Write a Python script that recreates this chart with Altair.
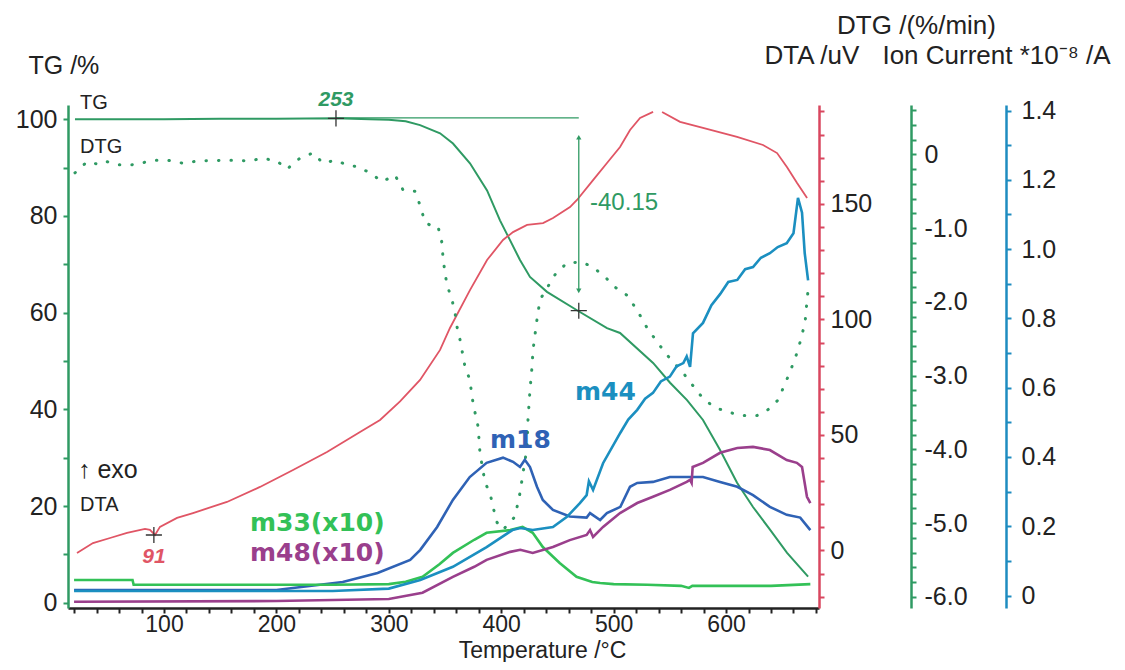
import altair as alt
import pandas as pd

FONT = "Liberation Sans"
GREEN = "#2f9a63"
RED = "#e05565"
RED_AX = "#d9475f"
BLUE_AX = "#1e8cc0"
C_M18 = "#2f62b5"
C_M44 = "#1b8fc0"
C_M33 = "#33c157"
C_M48 = "#9a3f8c"

W, H = 751, 503
X_DOMAIN = [14.6, 682.7]
TG_DOMAIN = [-1.1, 102.96]
DTA_DOMAIN = [-24.9, 192.8]
DTG_DOMAIN = [-6.15, 0.67]
ION_DOMAIN = [-0.036, 1.416]

# ---------------- data ----------------
tg_T = [20.8, 60, 100, 150, 200, 253, 283, 300, 315, 327.8, 345.6, 357.1, 372.2, 387.4,
        398.9, 407.8, 416.7, 425.6, 440.7, 467.4, 494.1, 505.7, 535.1, 550.2, 565.3,
        579.5, 594.7, 609.8, 624.0, 639.1, 654.3, 673.0]
tg_v = [100.0, 100.0, 100.0, 100.1, 100.1, 100.2, 100.0, 99.9, 99.6, 98.8, 97.1, 95.0,
        90.9, 85.3, 79.1, 75.0, 70.9, 67.4, 64.3, 60.5, 56.8, 55.8, 49.6, 45.5, 41.9,
        37.8, 31.6, 24.8, 19.8, 15.1, 10.3, 5.4]

dta_T = [22.6, 36.8, 52.0, 67.1, 83.1, 87.5, 92.0, 96.4, 111.6, 125.8, 156.0, 185.4,
         214.8, 245.0, 274.4, 292.2, 310.0, 327.8, 345.6, 354.4, 372.2, 387.4, 401.6, 410.5,
         423.0, 437.2, 446.1, 461.2, 467.4, 481.7, 494.1, 505.7, 514.6, 523.5, 535.1,
         543.1, 559.1, 579.5, 609.8, 632.9, 645.4, 654.3, 663.2, 672.1]
dta_v = [-1.1, 3.2, 5.4, 7.6, 9.3, 8.9, 6.7, 10.2, 14.1, 16.2, 21.0, 27.5, 34.8, 42.6,
         51.3, 56.5, 64.5, 73.8, 86.8, 96.3, 112.7, 125.7, 134.4, 137.8, 140.9, 141.7, 143.9,
         148.6, 151.7, 160.3, 167.7, 174.6, 182.0, 187.2, 189.8,
         189.8, 185.5, 182.9, 179.0, 175.5, 172.0, 165.9, 159.0, 152.6]
dta_seg = [1] * 35 + [2] * 9

dtg_T = [20.8, 31.5, 40.4, 47.5, 58.2, 71.5, 92.0, 103.6, 116.9, 129.4, 151.6, 163.2,
         176.5, 187.2, 200.5, 209.4, 221.0, 232.6, 241.5, 252.1, 262.8, 272.6, 283.3,
         294.0, 305.5, 312.6, 323.3, 327.8, 332.2, 339.3, 343.8, 347.3, 348.2, 350.0,
         351.8, 356.2, 358.9, 360.7, 363.3, 367.8, 372.2, 374.0, 376.7, 379.4, 381.1,
         385.6, 390.0, 392.7, 396.3, 401.6, 412.3, 416.7, 419.4, 423.0, 423.8, 425.6,
         427.4, 428.3, 431.8, 434.5, 447.9, 458.5, 471.9, 481.7, 492.3, 501.2, 511.9,
         520.8, 529.7, 538.6, 547.5, 561.7, 576.9, 588.4, 600.9, 614.2, 627.6, 637.4,
         646.3, 656.9, 664.1, 670.3, 672.1, 673.0]
dtg_v = [-0.25, -0.10, -0.13, -0.09, -0.14, -0.14, -0.08, -0.08, -0.12, -0.09, -0.08,
         -0.08, -0.09, -0.05, -0.09, -0.20, -0.05, 0.02, -0.12, -0.08, -0.14, -0.17,
         -0.25, -0.37, -0.28, -0.48, -0.50, -0.69, -0.92, -0.98, -0.98, -1.20, -1.40,
         -1.61, -1.77, -1.97, -2.15, -2.34, -2.51, -2.88, -3.06, -3.29, -3.50, -3.69,
         -4.05, -4.45, -4.59, -4.78, -4.99, -5.09, -4.91, -4.59, -4.32, -3.97, -3.60,
         -3.19, -2.88, -2.65, -2.24, -1.97, -1.63, -1.47, -1.46, -1.53, -1.66, -1.80,
         -1.91, -2.11, -2.35, -2.54, -2.72, -2.96, -3.26, -3.42, -3.49, -3.54, -3.54,
         -3.46, -3.33, -2.95, -2.65, -2.28, -1.97, -1.84]

m18_T = [20, 200, 259, 290, 319, 328, 343, 357, 372, 387, 401.6, 410.5, 416.7, 421,
         425.6, 431.8, 437, 446, 461, 476, 479, 488, 494, 506, 514.6, 521, 535, 550,
         565, 579.5, 594.7, 610, 624, 639, 654, 666, 675]
m18_v = [0.016, 0.016, 0.039, 0.065, 0.103, 0.132, 0.198, 0.276, 0.342, 0.383, 0.398,
         0.386, 0.371, 0.392, 0.371, 0.314, 0.276, 0.247, 0.228, 0.225, 0.238, 0.218,
         0.238, 0.256, 0.314, 0.325, 0.328, 0.342, 0.342, 0.342, 0.328, 0.314, 0.290,
         0.256, 0.233, 0.225, 0.189]

m44_T = [20, 250, 300, 328, 357, 387, 410, 417, 428, 446, 458.5, 470, 476, 478, 481.7,
         490.6, 506, 513, 521, 528, 535, 542, 550, 556, 562, 565, 568, 570.6, 579.5,
         587, 594.7, 602, 610, 617, 624, 631, 639, 646, 654, 660, 664, 667.6, 670, 673]
m44_v = [0.013, 0.013, 0.020, 0.045, 0.083, 0.140, 0.189, 0.195, 0.189, 0.198, 0.227,
         0.267, 0.290, 0.330, 0.305, 0.382, 0.470, 0.508, 0.536, 0.568, 0.585, 0.618,
         0.632, 0.662, 0.671, 0.690, 0.660, 0.757, 0.787, 0.838, 0.870, 0.905, 0.911,
         0.942, 0.948, 0.975, 0.988, 1.006, 1.017, 1.046, 1.148, 1.105, 0.988, 0.910]

m33_T = [20, 72, 73, 150, 250, 300, 315, 330, 345, 357, 376, 387, 408, 419, 428, 437,
         452, 467, 481, 488, 500, 530, 560, 567, 570, 600, 640, 675]
m33_v = [0.045, 0.045, 0.031, 0.031, 0.031, 0.033, 0.040, 0.054, 0.090, 0.123, 0.161,
         0.181, 0.189, 0.198, 0.181, 0.140, 0.094, 0.054, 0.039, 0.036, 0.033, 0.031,
         0.028, 0.022, 0.028, 0.028, 0.028, 0.033]

m48_T = [20, 200, 300, 330, 357, 376, 387, 408, 417, 428, 446, 461, 476, 479, 481.7,
         490.6, 505.7, 521, 535, 550, 565, 568, 569.4, 570.3, 579.5, 594.7, 610, 624,
         639, 654, 663, 667.6, 672, 675]
m48_v = [-0.018, -0.016, -0.010, 0.008, 0.054, 0.083, 0.103, 0.126, 0.132, 0.123, 0.140,
         0.160, 0.175, 0.189, 0.169, 0.198, 0.238, 0.267, 0.285, 0.305, 0.328, 0.334,
         0.325, 0.371, 0.383, 0.412, 0.426, 0.429, 0.420, 0.391, 0.383, 0.371, 0.285,
         0.267]

ion_series = ["m18", "m33", "m44", "m48"]
ion_colors = [C_M18, C_M33, C_M44, C_M48]

# annotations (positions in temperature / TG units)
lbl_plain = ["TG", "DTG", "\u2191 exo", "DTA", "-40.15"]
lbl_plain_T = [25.3, 25.3, 23.5, 25.3, 479]
lbl_plain_y = [103.4, 94.3, 27.5, 20.2, 82.7]
lbl_plain_size = [20, 20, 25, 20, 24]
lbl_plain_color = ["#222222", "#222222", "#222222", "#222222", GREEN]

lbl_bold = ["m33(x10)", "m48(x10)", "m18", "m44"]
lbl_bold_T = [176.5, 176.5, 390, 465.7]
lbl_bold_y = [16.4, 10.3, 33.7, 43.6]
lbl_bold_color = [C_M33, C_M48, C_M18, C_M44]

lbl_num = ["253", "91"]
lbl_num_T = [253, 91]
lbl_num_y = [104.0, 9.5]
lbl_num_color = [GREEN, RED]

# ---------------- scales & axes ----------------
xs = alt.Scale(domain=X_DOMAIN, nice=False, zero=False)
tg_s = alt.Scale(domain=TG_DOMAIN, nice=False, zero=False)
dta_s = alt.Scale(domain=DTA_DOMAIN, nice=False, zero=False)
dtg_s = alt.Scale(domain=DTG_DOMAIN, nice=False, zero=False)
ion_s = alt.Scale(domain=ION_DOMAIN, nice=False, zero=False)

TICK_FS = 25
TITLE_FS = 26

x_axis = alt.Axis(
    values=list(range(20, 681, 20)),
    labelExpr="datum.value % 100 === 0 ? format(datum.value, 'd') : ''",
    title="Temperature /\u00b0C", titleFont=FONT, titleFontSize=23,
    titleFontWeight="normal", titleColor="#222", titleX=474, titleY=42,
    titleAlign="center", titleBaseline="middle",
    labelFont=FONT, labelFontSize=23, labelColor="#222", labelPadding=0,
    domainColor="#222", domainWidth=2.5, tickColor="#222", tickWidth=2, tickSize=5,
    grid=False)

NEG = "(datum.value < -0.001 ? '-' : '') + format(abs(datum.value), '.1f')"

tg_axis = alt.Axis(
    orient="left", values=list(range(0, 101, 10)),
    labelExpr="datum.value % 20 === 0 ? format(datum.value, 'd') : ''",
    title="TG /%", titleFont=FONT, titleFontSize=25, titleFontWeight="normal",
    titleColor="#222", titleAngle=0, titleAlign="left", titleBaseline="middle",
    titleX=-40, titleY=-40,
    labelFont=FONT, labelFontSize=TICK_FS, labelColor="#222", labelPadding=6,
    domainColor=GREEN, domainWidth=2.5, tickColor=GREEN, tickWidth=2, tickSize=5,
    grid=False)

dta_axis = alt.Axis(
    orient="right", offset=0, values=list(range(-20, 191, 10)),
    labelExpr="datum.value % 50 === 0 ? format(datum.value, 'd') : ''",
    title="DTA /uV", titleFont=FONT, titleFontSize=TITLE_FS, titleFontWeight="normal",
    titleColor="#222", titleAngle=0, titleAlign="left", titleBaseline="middle",
    titleX=-55, titleY=-50,
    labelFont=FONT, labelFontSize=TICK_FS, labelColor="#222", labelPadding=6,
    domainColor=RED_AX, domainWidth=2.5, tickColor=RED_AX, tickWidth=2, tickSize=5,
    grid=False)

dtg_vals = [round(-6.0 + 0.2 * i, 1) + 0.0 for i in range(34)]
dtg_axis = alt.Axis(
    orient="right", offset=92, values=dtg_vals,
    labelExpr="abs(datum.value - round(datum.value)) < 0.001 ? "
              "(abs(datum.value) < 0.001 ? '0' : " + NEG + ") : ''",
    title="DTG /(%/min)", titleFont=FONT, titleFontSize=TITLE_FS, titleFontWeight="normal",
    titleColor="#222", titleAngle=0, titleAlign="center", titleBaseline="middle",
    titleX=5, titleY=-80,
    labelFont=FONT, labelFontSize=TICK_FS, labelColor="#222", labelPadding=8,
    domainColor=GREEN, domainWidth=2.5, tickColor=GREEN, tickWidth=2, tickSize=5,
    grid=False)

ion_vals = [round(0.1 * i, 1) for i in range(15)]
ion_axis = alt.Axis(
    orient="right", offset=187, values=ion_vals,
    labelExpr="abs(datum.value * 5 - round(datum.value * 5)) < 0.001 ? "
              "(abs(datum.value) < 0.001 ? '0' : format(datum.value, '.1f')) : ''",
    title="Ion Current *10\u207b\u2078 /A", titleFont=FONT, titleFontSize=TITLE_FS,
    titleFontWeight="normal", titleColor="#222", titleAngle=0, titleAlign="right",
    titleBaseline="middle", titleX=104, titleY=-50,
    labelFont=FONT, labelFontSize=TICK_FS, labelColor="#222", labelPadding=10,
    domainColor=BLUE_AX, domainWidth=2.5, tickColor=BLUE_AX, tickWidth=2, tickSize=5,
    grid=False)

CROSS = "M-1,0L1,0M0,-1L0,1"


def X(field="T:Q"):
    return alt.X(field, scale=xs, axis=x_axis)


# ---------------- TG ----------------
tg_df = pd.DataFrame({"T": tg_T, "tg": tg_v})
tg_line = alt.Chart(tg_df).mark_line(color=GREEN, strokeWidth=2, clip=True).encode(
    x=X(), y=alt.Y("tg:Q", scale=tg_s, axis=tg_axis))

ref_df = pd.DataFrame({"T": [253], "T2": [469], "tg": [100.3]})
ref_line = alt.Chart(ref_df).mark_rule(color=GREEN, strokeWidth=1.3).encode(
    x=X(), x2="T2:Q", y=alt.Y("tg:Q", scale=tg_s, axis=None))

arr_df = pd.DataFrame({"T": [469], "tg": [96.3], "tg2": [64.5]})
arr_line = alt.Chart(arr_df).mark_rule(color=GREEN, strokeWidth=1.3).encode(
    x=X(), y=alt.Y("tg:Q", scale=tg_s, axis=None), y2="tg2:Q")

head_df = pd.DataFrame({"T": [469, 469], "tg": [96.3, 64.5],
                        "shape": ["triangle-up", "triangle-down"], "off": [3, -3]})
arr_heads = alt.Chart(head_df).mark_point(filled=True, color=GREEN, size=28, opacity=1).encode(
    x=X(), y=alt.Y("tg:Q", scale=tg_s, axis=None),
    shape=alt.Shape("shape:N", scale=None),
    yOffset=alt.YOffset("off:Q", scale=None))

cross_df = pd.DataFrame({"T": [253, 469], "tg": [100.2, 60.4]})
tg_cross = alt.Chart(cross_df).mark_point(shape=CROSS, filled=False, color="#333",
                                          strokeWidth=1.3, size=260, opacity=1).encode(
    x=X(), y=alt.Y("tg:Q", scale=tg_s, axis=None))

plain_df = pd.DataFrame({"T": lbl_plain_T, "tg": lbl_plain_y, "label": lbl_plain,
                         "fs": lbl_plain_size, "c": lbl_plain_color})
plain_txt = alt.Chart(plain_df).mark_text(align="left", baseline="middle", font=FONT).encode(
    x=X(), y=alt.Y("tg:Q", scale=tg_s, axis=None),
    text="label:N", size=alt.Size("fs:Q", scale=None), color=alt.Color("c:N", scale=None))

bold_df = pd.DataFrame({"T": lbl_bold_T, "tg": lbl_bold_y, "label": lbl_bold,
                        "c": lbl_bold_color})
bold_txt = alt.Chart(bold_df).mark_text(align="left", baseline="middle", font="DejaVu Sans",
                                        fontWeight="bold", fontSize=25).encode(
    x=X(), y=alt.Y("tg:Q", scale=tg_s, axis=None),
    text="label:N", color=alt.Color("c:N", scale=None))

num_df = pd.DataFrame({"T": lbl_num_T, "tg": lbl_num_y, "label": lbl_num, "c": lbl_num_color})
num_txt = alt.Chart(num_df).mark_text(align="center", baseline="middle", font=FONT,
                                      fontWeight="bold", fontStyle="italic", fontSize=21).encode(
    x=X(), y=alt.Y("tg:Q", scale=tg_s, axis=None),
    text="label:N", color=alt.Color("c:N", scale=None))

# ---------------- DTA ----------------
dta_df = pd.DataFrame({"T": dta_T, "dta": dta_v, "seg": dta_seg})
dta_line = alt.Chart(dta_df).mark_line(color=RED, strokeWidth=1.8, clip=True).encode(
    x=X(), y=alt.Y("dta:Q", scale=dta_s, axis=dta_axis), detail="seg:N")
dta_cross_df = pd.DataFrame({"T": [91], "dta": [6.7]})
dta_cross = alt.Chart(dta_cross_df).mark_point(shape=CROSS, filled=False, color="#333",
                                               strokeWidth=1.3, size=260, opacity=1).encode(
    x=X(), y=alt.Y("dta:Q", scale=dta_s, axis=None))

# ---------------- DTG ----------------
dtg_df = pd.DataFrame({"T": dtg_T, "dtg": dtg_v})
dtg_line = alt.Chart(dtg_df).mark_line(color=GREEN, strokeWidth=3, strokeDash=[0.5, 12],
                                       strokeCap="round", clip=True).encode(
    x=X(), y=alt.Y("dtg:Q", scale=dtg_s, axis=dtg_axis))

# ---------------- ion currents ----------------
rows = []
for name, Ts, Vs in [("m18", m18_T, m18_v), ("m33", m33_T, m33_v),
                     ("m44", m44_T, m44_v), ("m48", m48_T, m48_v)]:
    for t, v in zip(Ts, Vs):
        rows.append({"T": t, "ion": v, "series": name})
ion_df = pd.DataFrame(rows)
ion_lines = alt.Chart(ion_df).mark_line(strokeWidth=2.6, clip=True).encode(
    x=X(), y=alt.Y("ion:Q", scale=ion_s, axis=ion_axis),
    color=alt.Color("series:N", scale=alt.Scale(domain=ion_series, range=ion_colors),
                    legend=None))

chart = alt.layer(
    tg_line, dta_line, dtg_line, ion_lines,
    ref_line, arr_line, arr_heads, tg_cross, dta_cross,
    plain_txt, bold_txt, num_txt,
).resolve_scale(
    y="independent"
).properties(
    width=W, height=H,
    autosize=alt.AutoSizeParams(type="none"),
    padding={"left": 60, "top": 97, "right": 297, "bottom": 54},
    background="white",
).configure_view(stroke=None)

chart.save("out.html", embed_options={"renderer": "svg", "actions": False})
